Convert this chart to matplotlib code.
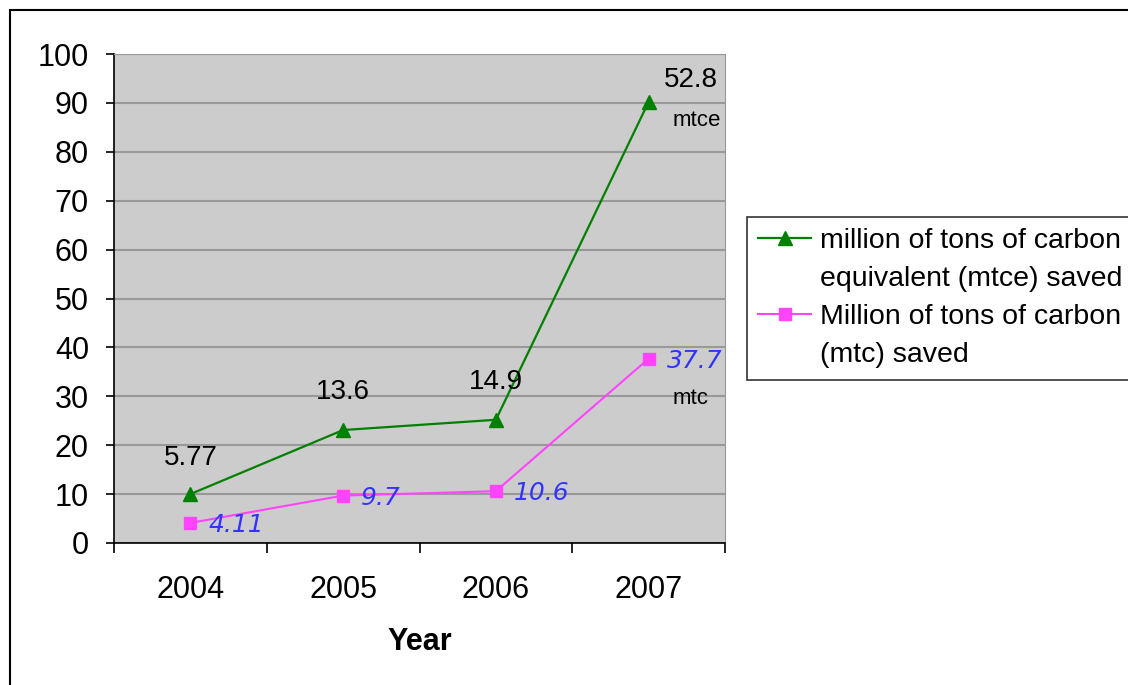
import matplotlib
matplotlib.use('Agg')
from matplotlib import pyplot as plt
from matplotlib.lines import Line2D
from matplotlib.patches import Rectangle

years = ['2004', '2005', '2006', '2007']
mtce_points = [10.0, 23.1, 25.2, 90.2]
mtce_labels = ['5.77', '13.6', '14.9', '52.8']
mtc_values = [4.11, 9.7, 10.6, 37.7]

plt.rcParams['font.family'] = ['Liberation Sans', 'DejaVu Sans']

fig = plt.figure(figsize=(11.28, 6.85), dpi=100)
W, H = 1128, 685
ax = fig.add_axes([114 / W, 1 - 543 / H, (725 - 114) / W, (543 - 54) / H])

x = list(range(len(years)))
ax.set_facecolor('#cccccc')
green, = ax.plot(x, mtce_points, color='#008000', lw=1.6, marker='^', ms=10)
pink, = ax.plot(x, mtc_values, color='#ff44ff', lw=1.5, marker='s', ms=8)

ax.set_xlim(-0.5, 3.5)
ax.set_ylim(0, 100)
ax.set_yticks(range(0, 101, 10))
ax.set_xticks(x)
ax.set_xticklabels(years)
ax.set_xticks([-0.5, 0.5, 1.5, 2.5, 3.5], minor=True)
ax.tick_params(axis='x', which='major', length=0, pad=23, labelsize=22)
ax.tick_params(axis='x', which='minor', length=7, width=1.2, direction='out')
ax.tick_params(axis='y', length=6, width=1.2, direction='out', labelsize=22, pad=12)
ax.yaxis.grid(True, color='#999999', lw=1.5)
ax.set_axisbelow(True)
for side in ['top', 'right']:
    ax.spines[side].set_color('#999999')
for side in ['left', 'bottom']:
    ax.spines[side].set_color('black')
    ax.spines[side].set_linewidth(1.2)

ax.set_xlabel('Year', fontsize=22, fontweight='bold')
ax.xaxis.set_label_coords(0.5008, -0.172)

# mtce figures written as plain text above the green markers
mtce_offsets = [(0, 36), (0, 38), (0, 38), (42, 22)]
for i, (txt, (dx, dy)) in enumerate(zip(mtce_labels, mtce_offsets)):
    ax.annotate(txt, (x[i], mtce_points[i]), xytext=(dx, dy),
                textcoords='offset pixels', ha='center', va='center',
                fontsize=20, color='black')
ax.annotate('mtce', (x[3], mtce_points[3]), xytext=(48, -19),
            textcoords='offset pixels', ha='center', va='center',
            fontsize=16, color='black')
ax.annotate('mtc', (x[3], mtc_values[3]), xytext=(42, -40),
            textcoords='offset pixels', ha='center', va='center',
            fontsize=16, color='black')

# mtc values beside the pink markers
for i, v in enumerate(mtc_values):
    ax.annotate(f'{v:g}', (x[i], v), xytext=(18, -2),
                textcoords='offset pixels', ha='left', va='center',
                fontsize=18, style='italic', color='#3333ff',
                family=['DejaVu Sans'])

# legend rows: the marker sits next to the first line of each label
blank = Line2D([], [], color='none')
handles = [green, blank, pink, blank]
labels = ['million of tons of carbon', 'equivalent (mtce) saved',
          'Million of tons of carbon', '(mtc) saved']
leg = ax.legend(handles, labels, loc='upper left',
                bbox_to_anchor=(747 / W, 1 - 217 / H),
                bbox_transform=fig.transFigure, fontsize=20.5, frameon=True,
                fancybox=False, edgecolor='black', borderaxespad=0,
                handlelength=1.85, labelspacing=0.42, borderpad=0.4,
                handletextpad=0.3)
leg.get_frame().set_linewidth(1.2)

fig.patches.append(Rectangle((10 / W, -0.05), 1.05, 1 - 10 / H + 0.05,
                             transform=fig.transFigure, fill=False,
                             edgecolor='black', lw=1.5))

fig.savefig('out.png', dpi=100)
